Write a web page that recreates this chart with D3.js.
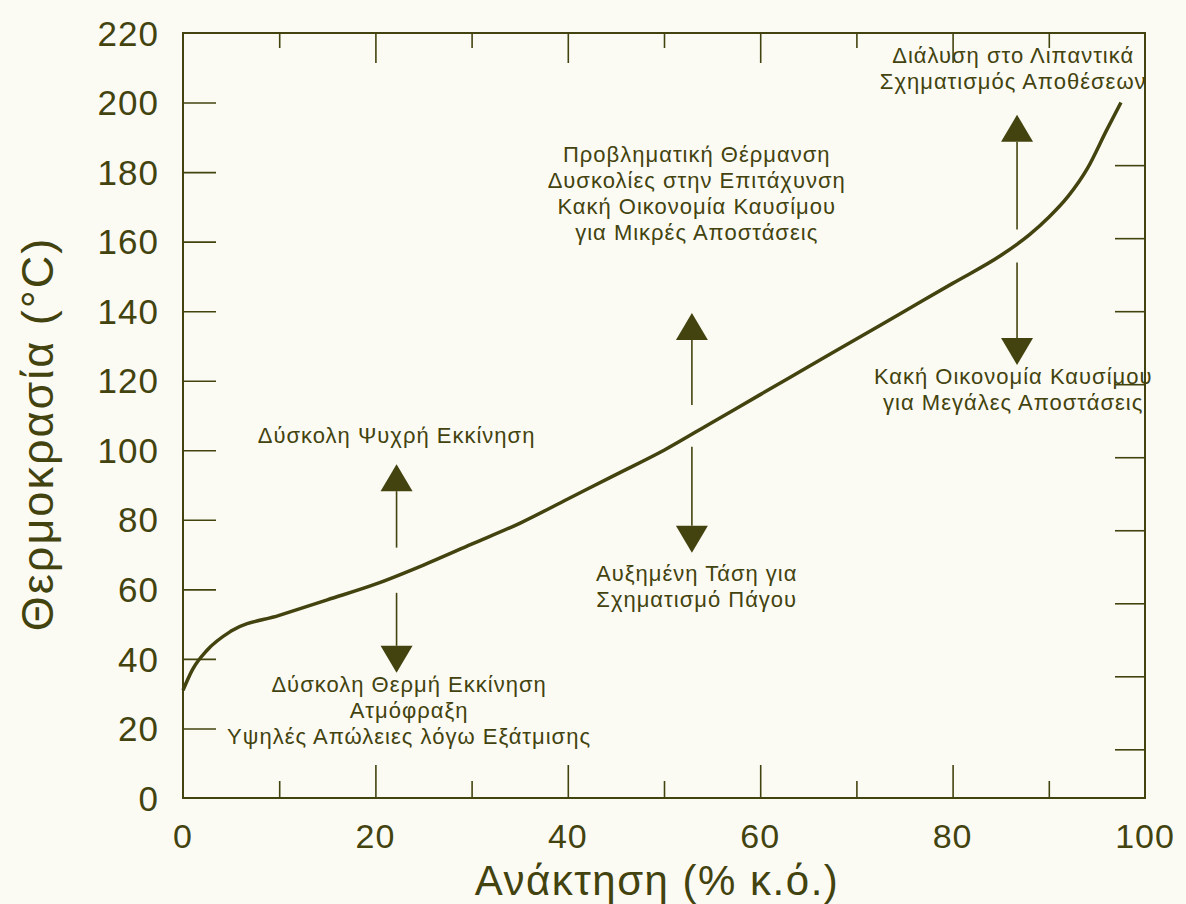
<!DOCTYPE html>
<html>
<head>
<meta charset="utf-8">
<script src="https://d3js.org/d3.v7.min.js"></script>
<style>
  body { margin: 0; background: #fbfbf4; }
  svg { display: block; font-family: "Liberation Sans", Arial, Helvetica, sans-serif; }
</style>
</head>
<body>
<script>
// curve: recovery (% v/v) vs temperature (°C)
const recovery = [0, 1, 2.5, 5, 10, 15, 20, 25, 30, 35, 40, 45, 50, 55, 60, 65, 70, 75, 80, 85, 88, 90, 92, 94, 96, 97.5]
const temperature = [31, 37, 42.5, 48, 52.5, 57, 61.5, 67, 73, 79, 86, 93, 100, 108, 116, 124, 132, 140, 148, 156, 162, 167, 173, 181, 192, 200]

const xTicks = [0, 20, 40, 60, 80, 100]
const xMinorTicks = [10, 30, 50, 70, 90]
const yTicks = [0, 20, 40, 60, 80, 100, 120, 140, 160, 180, 200, 220]
const rightTicks = [14, 35, 56, 77, 98, 119, 140, 161, 182]

// arrows: x position, stem start, tip
const arrows = [
  { x: 22.2, from: 72, to: 96 },
  { x: 22.2, from: 59, to: 36 },
  { x: 52.9, from: 113, to: 139.5 },
  { x: 52.9, from: 101, to: 70.5 },
  { x: 86.7, from: 163.5, to: 196.5 },
  { x: 86.7, from: 154, to: 124.5 }
]

// annotation blocks: centre x, first line y, lines
const notes = [
  { x: 22.2, y: 102, lines: ['Δύσκολη Ψυχρή Εκκίνηση'] },
  { x: 23.5, y: 30.5, lines: ['Δύσκολη Θερμή Εκκίνηση', 'Ατμόφραξη', 'Υψηλές Απώλειες λόγω Εξάτμισης'] },
  { x: 53.4, y: 183, lines: ['Προβληματική Θέρμανση', 'Δυσκολίες στην Επιτάχυνση', 'Κακή Οικονομία Καυσίμου', 'για Μικρές Αποστάσεις'] },
  { x: 53.4, y: 62.5, lines: ['Αυξημένη Τάση για', 'Σχηματισμό Πάγου'] },
  { x: 86.3, y: 211.5, lines: ['Διάλυση στο Λιπαντικά', 'Σχηματισμός Αποθέσεων'] },
  { x: 86.3, y: 119, lines: ['Κακή Οικονομία Καυσίμου', 'για Μεγάλες Αποστάσεις'] }
]

const width = 1186
const height = 904
const ink = '#43430f'
const pLeft = 183, pRight = 1145, pTop = 33, pBottom = 798

const svg = d3.select('body').append('svg').attr('width', width).attr('height', height)

const x = d3.scaleLinear().domain([0, 100]).range([pLeft, pRight])
const y = d3.scaleLinear().domain([0, 220]).range([pBottom, pTop])

// frame
svg.append('rect')
  .attr('x', pLeft).attr('y', pTop)
  .attr('width', pRight - pLeft).attr('height', pBottom - pTop)
  .style('fill', 'none').style('stroke', ink).style('stroke-width', 2)

// left ticks
svg.append('g')
  .attr('transform', 'translate(' + pLeft + ',0)')
  .call(d3.axisRight(y).tickValues(yTicks.filter(d => d > 0 && d < 220)).tickSize(33).tickFormat(''))
  .call(g => g.select('.domain').remove())

// left labels
svg.append('g').selectAll('text').data(yTicks).join('text')
  .attr('x', pLeft - 24).attr('y', d => y(d))
  .attr('dy', '0.36em')
  .attr('text-anchor', 'end')
  .style('font-size', '35px')
  .style('letter-spacing', '1px')
  .style('fill', ink)
  .text(d => d)

// right ticks
svg.append('g')
  .attr('transform', 'translate(' + pRight + ',0)')
  .call(d3.axisLeft(y).tickValues(rightTicks).tickSize(30).tickFormat(''))
  .call(g => g.select('.domain').remove())

// bottom ticks
svg.append('g')
  .attr('transform', 'translate(0,' + pBottom + ')')
  .call(d3.axisTop(x).tickValues(xTicks.filter(d => d > 0 && d < 100)).tickSize(33).tickFormat(''))
  .call(g => g.select('.domain').remove())
svg.append('g')
  .attr('transform', 'translate(0,' + pBottom + ')')
  .call(d3.axisTop(x).tickValues(xMinorTicks).tickSize(17).tickFormat(''))
  .call(g => g.select('.domain').remove())

// top ticks
svg.append('g')
  .attr('transform', 'translate(0,' + pTop + ')')
  .call(d3.axisBottom(x).tickValues(xTicks.filter(d => d > 0 && d < 100)).tickSize(30).tickFormat(''))
  .call(g => g.select('.domain').remove())
svg.append('g')
  .attr('transform', 'translate(0,' + pTop + ')')
  .call(d3.axisBottom(x).tickValues(xMinorTicks).tickSize(15).tickFormat(''))
  .call(g => g.select('.domain').remove())

svg.selectAll('.tick line').style('stroke', ink).style('stroke-width', 1.6)

// bottom labels
svg.append('g').selectAll('text').data(xTicks).join('text')
  .attr('x', d => x(d)).attr('y', 848)
  .attr('text-anchor', 'middle')
  .style('font-size', '34px')
  .style('letter-spacing', '1px')
  .style('fill', ink)
  .text(d => d)

// axis titles
svg.append('text')
  .attr('x', 657).attr('y', 895)
  .attr('text-anchor', 'middle')
  .style('font-size', '42px')
  .style('letter-spacing', '1.5px')
  .style('fill', ink)
  .text('Ανάκτηση (% κ.ό.)')

svg.append('text')
  .attr('transform', 'translate(53,434) rotate(-90)')
  .attr('text-anchor', 'middle')
  .style('font-size', '45px')
  .style('letter-spacing', '2px')
  .style('fill', ink)
  .text('Θερμοκρασία (°C)')

// curve
const pts = recovery.map((r, i) => [r, temperature[i]])
const line = d3.line()
  .x(d => x(d[0]))
  .y(d => y(d[1]))
  .curve(d3.curveMonotoneX)

svg.append('path')
  .attr('d', line(pts))
  .style('fill', 'none')
  .style('stroke', ink)
  .style('stroke-width', 3.5)

// arrows
const head = 27, half = 16
arrows.forEach(a => {
  const px = x(a.x)
  const y0 = y(a.from), y1 = y(a.to)
  const dir = y1 < y0 ? -1 : 1
  const base = y1 - dir * head
  svg.append('line')
    .attr('x1', px).attr('x2', px)
    .attr('y1', y0).attr('y2', base)
    .style('stroke', ink).style('stroke-width', 1.6)
  svg.append('path')
    .attr('d', 'M' + px + ',' + y1 + 'L' + (px - half) + ',' + base + 'L' + (px + half) + ',' + base + 'Z')
    .style('fill', ink)
})

// notes
notes.forEach(n => {
  const t = svg.append('text')
    .attr('x', x(n.x)).attr('y', y(n.y))
    .attr('text-anchor', 'middle')
    .style('font-size', '22px')
    .style('letter-spacing', '1px')
    .style('fill', ink)
  n.lines.forEach((l, i) => {
    t.append('tspan').attr('x', x(n.x)).attr('dy', i === 0 ? 0 : 26).text(l)
  })
})
</script>
</body>
</html>
